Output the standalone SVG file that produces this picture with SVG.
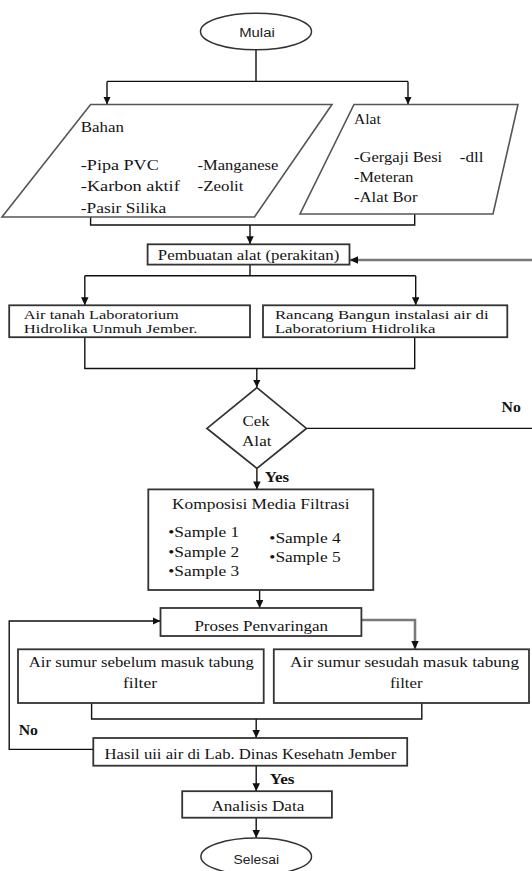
<svg xmlns="http://www.w3.org/2000/svg" width="532" height="871" viewBox="0 0 532 871">
<defs>
<marker id="arr" markerUnits="userSpaceOnUse" markerWidth="9" markerHeight="8" refX="8" refY="3.75" orient="auto">
<path d="M0,0 L8,3.75 L0,7.5 z" fill="#111"/>
</marker>
<style>
.box{fill:#fff;stroke:#333;stroke-width:1.8}
.par{fill:#fff;stroke:#555;stroke-width:1.6}
.term{fill:#fff;stroke:#333;stroke-width:1.5}
.t{font-family:"Liberation Serif","Times New Roman",serif;font-size:14px;fill:#141414}
.t2{font-family:"Liberation Serif","Times New Roman",serif;font-size:12.2px;fill:#141414}
.b{font-family:"Liberation Serif","Times New Roman",serif;font-size:14px;font-weight:bold;fill:#141414}
.s{font-family:"Liberation Sans",Arial,sans-serif;font-size:12px;fill:#222}
.c{fill:none;stroke:#111;stroke-width:1.4}
.g{fill:none;stroke:#7a7a7a;stroke-width:2.6}
</style>
</defs>
<rect width="532" height="871" fill="#fff"/>

<g id="connectors">
<path class="c" d="M256,50 V81.4"/>
<path class="c" d="M107,81.4 H408"/>
<path class="c" d="M107,81.4 V104.5" marker-end="url(#arr)"/>
<path class="c" d="M408,81.4 V104.5" marker-end="url(#arr)"/>
<path class="c" d="M90.6,217 V225 H414.7 V214"/>
<path class="c" d="M250,225 V244.3" marker-end="url(#arr)"/>
<path class="c" d="M250,264.6 V275.8 M84.8,275.8 H415.7"/>
<path class="c" d="M84.8,275.8 V305.3" marker-end="url(#arr)"/>
<path class="c" d="M415.7,275.8 V305.3" marker-end="url(#arr)"/>
<path class="c" d="M84.8,337.2 V368.5 H414.7 V337.2"/>
<path class="c" d="M256.8,368.5 V387.6" marker-end="url(#arr)"/>
<path class="c" d="M306.4,428.4 H534 V260"/>
<path class="g" d="M534,260 H350" marker-end="url(#arr)"/>
<path class="c" d="M256.9,468.4 V489.4" marker-end="url(#arr)"/>
<path class="c" d="M259.6,590 V608" marker-end="url(#arr)"/>
<path class="c" d="M93.3,749.4 H9.2 V621 H160.5" marker-end="url(#arr)"/>
<path class="g" d="M361.4,620 H415 V649" marker-end="url(#arr)"/>
<path class="c" d="M91.6,703 V719 H421.8 V703"/>
<path class="c" d="M256.2,719 V738" marker-end="url(#arr)"/>
<path class="c" d="M256.2,765.7 V791.2" marker-end="url(#arr)"/>
<path class="c" d="M256.2,817.7 V838" marker-end="url(#arr)"/>
<text class="b" x="501.5" y="412.4" textLength="19.3" lengthAdjust="spacingAndGlyphs">No</text>
<text class="b" x="264.7" y="482" textLength="24.4" lengthAdjust="spacingAndGlyphs">Yes</text>
<text class="b" x="18.7" y="734.5" textLength="19.3" lengthAdjust="spacingAndGlyphs">No</text>
<text class="b" x="269.8" y="784.4" textLength="24.7" lengthAdjust="spacingAndGlyphs">Yes</text>
</g>

<g id="mulai">
<ellipse class="term" cx="256" cy="31.5" rx="55.5" ry="18.3"/>
<text class="s" x="239.2" y="37.3" textLength="35.6" lengthAdjust="spacingAndGlyphs">Mulai</text>
</g>

<g id="bahan">
<polygon class="par" points="90.6,104.5 332,104.5 254.5,217 2,217"/>
<text class="t" x="80.8" y="132.2" textLength="43.1" lengthAdjust="spacingAndGlyphs">Bahan</text>
<text class="t" x="80.8" y="169.6" textLength="78" lengthAdjust="spacingAndGlyphs">-Pipa PVC</text>
<text class="t" x="80.8" y="191" textLength="99" lengthAdjust="spacingAndGlyphs">-Karbon aktif</text>
<text class="t" x="80.8" y="212.5" textLength="85.5" lengthAdjust="spacingAndGlyphs">-Pasir Silika</text>
<text class="t" x="197.5" y="169.6" textLength="80.8" lengthAdjust="spacingAndGlyphs">-Manganese</text>
<text class="t" x="197.5" y="191" textLength="46" lengthAdjust="spacingAndGlyphs">-Zeolit</text>
</g>

<g id="alat">
<polygon class="par" points="354,104.5 518,104.5 493,214 300,214"/>
<text class="t" x="354" y="124.4" textLength="26.8" lengthAdjust="spacingAndGlyphs">Alat</text>
<text class="t" x="354" y="161.8" textLength="88.2" lengthAdjust="spacingAndGlyphs">-Gergaji Besi</text>
<text class="t" x="459.8" y="161.8" textLength="23.8" lengthAdjust="spacingAndGlyphs">-dll</text>
<text class="t" x="354" y="181.6" textLength="59.4" lengthAdjust="spacingAndGlyphs">-Meteran</text>
<text class="t" x="354" y="202.3" textLength="63.5" lengthAdjust="spacingAndGlyphs">-Alat Bor</text>
</g>

<g id="pembuatan">
<rect class="box" x="147.6" y="244.3" width="201.9" height="20.3"/>
<text class="t" x="157.8" y="259.9" textLength="181.5" lengthAdjust="spacingAndGlyphs">Pembuatan alat (perakitan)</text>
</g>

<g id="air-tanah">
<rect class="box" x="9.2" y="305.3" width="240.8" height="31.9"/>
<text class="t2" x="23.8" y="319.2" textLength="155" lengthAdjust="spacingAndGlyphs">Air tanah Laboratorium</text>
<text class="t2" x="23.8" y="333.4" textLength="173.7" lengthAdjust="spacingAndGlyphs">Hidrolika Unmuh Jember.</text>
</g>

<g id="rancang">
<rect class="box" x="263" y="305.3" width="244.3" height="31.9"/>
<text class="t2" x="274.9" y="319.2" textLength="213.8" lengthAdjust="spacingAndGlyphs">Rancang Bangun instalasi air di</text>
<text class="t2" x="274.9" y="333.4" textLength="160.5" lengthAdjust="spacingAndGlyphs">Laboratorium Hidrolika</text>
</g>

<g id="cek-alat">
<polygon class="box" points="256.9,387.6 306.4,428.4 256.9,468.4 207,428.4"/>
<text class="t" x="242.6" y="426" textLength="27.1" lengthAdjust="spacingAndGlyphs">Cek</text>
<text class="t" x="242" y="446.3" textLength="29.5" lengthAdjust="spacingAndGlyphs">Alat</text>
</g>

<g id="komposisi">
<rect class="box" x="148.3" y="489.4" width="225" height="100.6"/>
<text class="t" x="172" y="509" textLength="177.5" lengthAdjust="spacingAndGlyphs">Komposisi Media Filtrasi</text>
<text class="t" x="168.3" y="536.7" textLength="71" lengthAdjust="spacingAndGlyphs">•Sample 1</text>
<text class="t" x="168.3" y="556.7" textLength="71" lengthAdjust="spacingAndGlyphs">•Sample 2</text>
<text class="t" x="168.3" y="575.5" textLength="71" lengthAdjust="spacingAndGlyphs">•Sample 3</text>
<text class="t" x="269.3" y="542.7" textLength="71.4" lengthAdjust="spacingAndGlyphs">•Sample 4</text>
<text class="t" x="269.3" y="561.7" textLength="71.4" lengthAdjust="spacingAndGlyphs">•Sample 5</text>
</g>

<g id="proses">
<rect class="box" x="160.5" y="608" width="200.9" height="28"/>
<text class="t" x="194.4" y="630.6" textLength="133.6" lengthAdjust="spacingAndGlyphs">Proses Penvaringan</text>
</g>

<g id="sebelum">
<rect class="box" x="18" y="649.3" width="245.7" height="53.7"/>
<text class="t" x="28.8" y="667.3" textLength="225" lengthAdjust="spacingAndGlyphs">Air sumur sebelum masuk tabung</text>
<text class="t" x="123" y="688.4" textLength="34" lengthAdjust="spacingAndGlyphs">filter</text>
</g>

<g id="sesudah">
<rect class="box" x="273.8" y="649.3" width="255.2" height="53.7"/>
<text class="t" x="290" y="667.3" textLength="229" lengthAdjust="spacingAndGlyphs">Air sumur sesudah masuk tabung</text>
<text class="t" x="390" y="688.4" textLength="32.5" lengthAdjust="spacingAndGlyphs">filter</text>
</g>

<g id="hasil">
<rect class="box" x="93.3" y="738" width="313.9" height="27.7"/>
<text class="t" x="104.5" y="759" textLength="291.8" lengthAdjust="spacingAndGlyphs">Hasil uii air di Lab. Dinas Kesehatn Jember</text>
</g>

<g id="analisis">
<rect class="box" x="182.2" y="791.2" width="149.7" height="26.5"/>
<text class="t" x="211.4" y="810.9" textLength="93" lengthAdjust="spacingAndGlyphs">Analisis Data</text>
</g>

<g id="selesai">
<ellipse class="term" cx="256.2" cy="856.5" rx="55.3" ry="18.5"/>
<text class="s" x="233.5" y="863.5" textLength="45.5" lengthAdjust="spacingAndGlyphs">Selesai</text>
</g>
</svg>
